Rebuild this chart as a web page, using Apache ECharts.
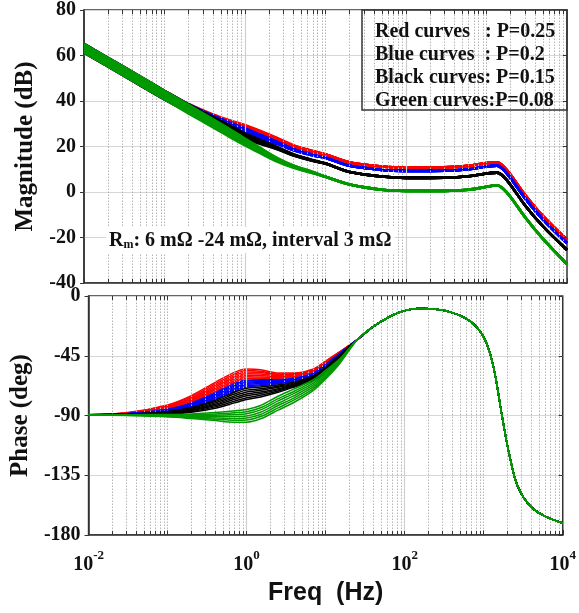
<!DOCTYPE html>
<html>
<head>
<meta charset="utf-8">
<script src="https://cdn.jsdelivr.net/npm/echarts@6/dist/echarts.min.js"></script>
<style>
html, body { margin: 0; padding: 0; background: #fff; }
#main { width: 579px; height: 613px; }
</style>
</head>
<body>
<div id="main"></div>
<script>
var myChart = echarts.init(document.getElementById('main'));

// frequencies (Hz)
var freqMagLow = [0.01, 0.03, 0.1, 0.2, 0.4, 0.7, 1, 1.5, 2.5, 4, 7];
var freqMagHigh = [10, 20, 50, 100, 300, 600, 1000, 1350, 1600, 2000, 3000, 5000, 10000];
var freqPhLow = [0.01, 0.03, 0.1, 0.2, 0.4, 0.7, 1, 1.5, 2.5, 4, 7, 10, 15];
var freqPhHigh = [25, 40, 70, 100, 150, 250, 400, 600, 800, 1000, 1200, 1400, 1700, 2000, 2500, 3000, 4000, 6000, 10000];

// magnitude (dB), one row per Rm = 6..24 mOhm
var magRedLow = [
    [65.1, 55.3, 44.5, 38.7, 34.1, 31.1, 29.5, 27.1, 23.8, 20.5, 18.0],
    [64.5, 54.7, 43.9, 38.1, 33.6, 30.7, 29.1, 26.8, 23.6, 20.4, 17.9],
    [63.8, 54.0, 43.2, 37.6, 33.1, 30.2, 28.7, 26.5, 23.5, 20.3, 17.9],
    [63.2, 53.4, 42.6, 37.0, 32.6, 29.8, 28.3, 26.2, 23.3, 20.2, 17.8],
    [62.6, 52.8, 42.0, 36.4, 32.1, 29.4, 27.9, 25.9, 23.1, 20.1, 17.7],
    [61.9, 52.1, 41.3, 35.9, 31.6, 28.9, 27.5, 25.6, 23.0, 20.0, 17.7],
    [61.3, 51.5, 40.7, 35.3, 31.1, 28.5, 27.1, 25.3, 22.8, 19.9, 17.6]
];
var magBlueLow = [
    [65.1, 55.3, 44.5, 38.6, 33.6, 30.1, 28.0, 25.4, 22.1, 18.9, 16.4],
    [64.5, 54.7, 43.9, 38.0, 33.1, 29.7, 27.6, 25.1, 21.9, 18.8, 16.3],
    [63.8, 54.0, 43.2, 37.5, 32.6, 29.2, 27.2, 24.8, 21.8, 18.7, 16.3],
    [63.2, 53.4, 42.6, 36.9, 32.1, 28.8, 26.8, 24.5, 21.6, 18.6, 16.2],
    [62.6, 52.8, 42.0, 36.3, 31.6, 28.4, 26.4, 24.2, 21.4, 18.5, 16.1],
    [61.9, 52.1, 41.3, 35.8, 31.1, 27.9, 26.0, 23.9, 21.3, 18.4, 16.1],
    [61.3, 51.5, 40.7, 35.2, 30.6, 27.5, 25.6, 23.6, 21.1, 18.3, 16.0]
];
var magBlackLow = [
    [65.1, 55.3, 44.5, 38.4, 33.0, 28.6, 25.8, 23.1, 19.8, 16.6, 14.0],
    [64.5, 54.7, 43.9, 37.8, 32.5, 28.2, 25.4, 22.8, 19.6, 16.5, 13.9],
    [63.8, 54.0, 43.2, 37.3, 32.0, 27.7, 25.0, 22.5, 19.5, 16.4, 13.9],
    [63.2, 53.4, 42.6, 36.7, 31.5, 27.3, 24.6, 22.2, 19.3, 16.3, 13.8],
    [62.6, 52.8, 42.0, 36.1, 31.0, 26.9, 24.2, 21.9, 19.1, 16.2, 13.7],
    [61.9, 52.1, 41.3, 35.6, 30.5, 26.4, 23.8, 21.6, 19.0, 16.1, 13.7],
    [61.3, 51.5, 40.7, 35.0, 30.0, 26.0, 23.4, 21.3, 18.8, 16.0, 13.6]
];
var magGreenLow = [
    [65.1, 55.3, 44.5, 38.3, 32.0, 26.9, 23.5, 19.7, 15.0, 11.7, 8.8],
    [64.5, 54.7, 43.9, 37.7, 31.4, 26.3, 23.0, 19.3, 14.7, 11.5, 8.7],
    [63.8, 54.0, 43.2, 37.0, 30.8, 25.8, 22.5, 18.9, 14.5, 11.4, 8.6],
    [63.2, 53.4, 42.6, 36.4, 30.2, 25.2, 22.0, 18.5, 14.2, 11.2, 8.5],
    [62.6, 52.8, 42.0, 35.8, 29.6, 24.6, 21.5, 18.1, 13.9, 11.0, 8.4],
    [61.9, 52.1, 41.3, 35.1, 29.0, 24.1, 21.0, 17.7, 13.7, 10.9, 8.3],
    [61.3, 51.5, 40.7, 34.5, 28.4, 23.5, 20.5, 17.3, 13.4, 10.7, 8.2]
];
var magRedHigh = [16.5, 13, 11.2, 10.8, 10.9, 11.5, 12.7, 13.1, 11.5, 7.5, -1.2, -10.5, -21];
var magBlueHigh = [15, 11.5, 9.7, 9.3, 9.4, 10, 11.2, 11.6, 10, 6, -2.7, -12, -22.5];
var magBlackHigh = [12.5, 8.8, 6.8, 6.2, 6.3, 6.9, 8.1, 8.5, 7, 3, -5.8, -15, -25.5];
var magGreenHigh = [6.7, 3.3, 1.0, 0.5, 0.5, 1.0, 2.3, 3.0, 1.5, -2.3, -11, -20.5, -31.7];

// phase (deg), one row per Rm
var phRedLow = [
    [-89.5, -88.0, -82.0, -75.0, -65.0, -57.5, -55.0, -55.5, -58.0, -58.0, -55.0, -49.0, -42.0],
    [-89.5, -88.1, -82.5, -75.8, -66.2, -58.8, -56.2, -56.6, -58.7, -58.5, -55.3, -49.3, -42.2],
    [-89.5, -88.2, -83.0, -76.7, -67.3, -60.0, -57.3, -57.7, -59.3, -59.0, -55.7, -49.7, -42.3],
    [-89.5, -88.3, -83.5, -77.5, -68.5, -61.2, -58.5, -58.8, -60.0, -59.5, -56.0, -50.0, -42.5],
    [-89.5, -88.4, -84.0, -78.3, -69.7, -62.5, -59.7, -59.9, -60.7, -60.0, -56.3, -50.3, -42.7],
    [-89.5, -88.5, -84.5, -79.2, -70.8, -63.8, -60.8, -61.0, -61.3, -60.5, -56.7, -50.7, -42.8],
    [-89.5, -88.6, -85.0, -80.0, -72.0, -65.0, -62.0, -62.0, -62.0, -61.0, -57.0, -51.0, -43.0]
];
var phBlueLow = [
    [-89.5, -88.6, -85.3, -80.5, -73.0, -66.0, -63.2, -63.0, -63.0, -62.0, -58.0, -51.5, -43.3],
    [-89.5, -88.7, -85.6, -81.0, -73.8, -66.9, -64.1, -63.8, -63.5, -62.3, -58.3, -51.7, -43.4],
    [-89.5, -88.7, -85.9, -81.5, -74.7, -67.8, -65.0, -64.5, -64.0, -62.7, -58.5, -51.9, -43.5],
    [-89.5, -88.8, -86.2, -82.0, -75.5, -68.8, -65.9, -65.3, -64.5, -63.0, -58.8, -52.2, -43.7],
    [-89.5, -88.9, -86.4, -82.5, -76.3, -69.7, -66.7, -66.0, -65.0, -63.3, -59.0, -52.4, -43.8],
    [-89.5, -88.9, -86.7, -83.0, -77.2, -70.6, -67.6, -66.8, -65.5, -63.7, -59.3, -52.6, -43.9],
    [-89.5, -89.0, -87.0, -83.5, -78.0, -71.5, -68.5, -67.5, -66.0, -64.0, -59.5, -52.8, -44.0]
];
var phBlackLow = [
    [-89.5, -89.0, -87.0, -84.0, -78.5, -72.5, -69.5, -68.5, -67.0, -65.0, -60.0, -53.5, -44.5],
    [-89.5, -89.1, -87.3, -84.6, -79.5, -73.8, -70.9, -69.8, -67.9, -65.6, -60.6, -54.2, -44.8],
    [-89.5, -89.2, -87.7, -85.2, -80.5, -75.2, -72.3, -71.0, -68.8, -66.2, -61.2, -54.9, -45.2],
    [-89.5, -89.3, -88.0, -85.8, -81.5, -76.5, -73.8, -72.3, -69.8, -66.8, -61.8, -55.6, -45.6],
    [-89.5, -89.3, -88.3, -86.3, -82.5, -77.8, -75.2, -73.5, -70.7, -67.3, -62.4, -56.3, -46.0],
    [-89.5, -89.4, -88.7, -86.9, -83.5, -79.2, -76.6, -74.8, -71.6, -67.9, -62.9, -57.0, -46.5],
    [-89.5, -89.5, -89.0, -87.5, -84.5, -80.5, -78.0, -76.0, -72.5, -68.5, -63.5, -57.7, -47.0]
];
var phGreenLow = [
    [-89.5, -89.4, -89.2, -88.8, -87.8, -86.5, -85.5, -82.5, -75.5, -70.0, -63.0, -56.0, -47.5],
    [-89.5, -89.5, -89.5, -89.4, -88.8, -87.9, -87.1, -84.2, -77.3, -71.7, -64.3, -57.1, -48.1],
    [-89.5, -89.6, -89.8, -90.0, -89.8, -89.3, -88.7, -85.8, -79.0, -73.3, -65.7, -58.2, -48.7],
    [-89.5, -89.7, -90.1, -90.5, -90.8, -90.8, -90.3, -87.5, -80.8, -75.0, -67.0, -59.3, -49.3],
    [-89.5, -89.8, -90.4, -91.1, -91.8, -92.2, -91.8, -89.2, -82.5, -76.7, -68.3, -60.4, -49.8],
    [-89.5, -89.9, -90.7, -91.7, -92.8, -93.6, -93.4, -90.8, -84.3, -78.3, -69.7, -61.5, -50.4],
    [-89.5, -90.0, -91.0, -92.3, -93.8, -95.0, -95.0, -92.5, -86.0, -80.0, -71.0, -62.5, -51.0]
];
// all curves share this above ~20 Hz
var phHigh = [-33, -23, -14.5, -11, -9.5, -10, -12.5, -17, -23, -31, -43, -60, -90, -113, -138, -149, -159, -166, -171];

var groups = [
    { color: '#ff0000', magLow: magRedLow, magHigh: magRedHigh, phLow: phRedLow },
    { color: '#0000ff', magLow: magBlueLow, magHigh: magBlueHigh, phLow: phBlueLow },
    { color: '#000000', magLow: magBlackLow, magHigh: magBlackHigh, phLow: phBlackLow },
    { color: '#009a00', magLow: magGreenLow, magHigh: magGreenHigh, phLow: phGreenLow }
];

var magTicks = [-40, -20, 0, 20, 40, 60, 80];
var phTicks = [-180, -135, -90, -45, 0];

var legendLines = [
    'Red curves   : P=0.25',
    'Blue curves  : P=0.2',
    'Black curves: P=0.15',
    'Green curves:P=0.08'
];

function pairs(fs, vs) {
    return fs.map(function (f, i) { return [f, vs[i]]; });
}

// log grid positions: 2..9 x each decade, odd decades dotted; 10^0 and 10^2 solid
var dotted = [], solid = [1, 100];
for (var d = -2; d < 4; d++) {
    for (var k = 1; k <= 9; k++) {
        if (k === 1 && d % 2 === 0) continue;
        dotted.push(+(k * Math.pow(10, d)).toPrecision(3));
    }
}
var yRange = [[-40, 80], [-180, 0]];
var yTicks = [magTicks, phTicks];
var tickLen = [1.8, 3.0]; // about 4 px in each panel

var serif = '"Liberation Serif", "Times New Roman", serif';

var series = [];
[0, 1].forEach(function (g) {
    var lo = yRange[g][0], hi = yRange[g][1], t = tickLen[g];
    var ticks = [];
    dotted.concat(solid).forEach(function (v) {
        ticks.push([{ coord: [v, lo] }, { coord: [v, lo + t] }]);
        ticks.push([{ coord: [v, hi] }, { coord: [v, hi - t] }]);
    });
    yTicks[g].forEach(function (y) {
        ticks.push([{ coord: [8900, y] }, { coord: [10000, y] }]);
    });
    series.push({
        type: 'line', xAxisIndex: g, yAxisIndex: g, data: [], silent: true, z: 1,
        markLine: {
            silent: true, symbol: 'none', animation: false, label: { show: false },
            data: dotted.map(function (v) {
                return { xAxis: v, lineStyle: { color: '#b5b5b5', type: [1.5, 1.5], width: 1 } };
            }).concat(solid.map(function (v) {
                return { xAxis: v, lineStyle: { color: '#cfcfcf', type: 'solid', width: 1.2 } };
            }))
        }
    });
    series.push({
        type: 'line', xAxisIndex: g, yAxisIndex: g, data: [], silent: true, z: 20,
        markLine: {
            silent: true, symbol: 'none', animation: false, label: { show: false },
            lineStyle: { color: '#333', type: 'solid', width: 1 },
            data: ticks
        }
    });
});

groups.forEach(function (gr, gi) {
    gr.magLow.forEach(function (row) {
        series.push({
            type: 'line', xAxisIndex: 0, yAxisIndex: 0, z: 3 + gi,
            showSymbol: false, smooth: 0.3,
            lineStyle: { color: gr.color, width: 2.6 },
            data: pairs(freqMagLow, row).concat(pairs(freqMagHigh, gr.magHigh))
        });
    });
});
groups.forEach(function (gr, gi) {
    gr.phLow.forEach(function (row) {
        series.push({
            type: 'line', xAxisIndex: 1, yAxisIndex: 1, z: 3 + gi,
            showSymbol: false, smooth: 0.3,
            lineStyle: { color: gr.color, width: 1.5 },
            data: pairs(freqPhLow, row).concat(pairs(freqPhHigh, phHigh))
        });
    });
});

function xAxisCfg(idx, showLabel) {
    return {
        type: 'log', logBase: 10, gridIndex: idx, min: 0.01, max: 10000,
        axisLine: { show: true, onZero: false, lineStyle: { color: '#333', width: 1.5 } },
        axisTick: { show: true, inside: true, length: 5, lineStyle: { color: '#333' } },
        splitLine: { show: false },
        axisLabel: {
            show: showLabel, margin: 14,
            formatter: function (v) {
                var e = Math.round(Math.log10(v));
                return e % 2 === 0 ? '{b|10}{s|' + e + '}' : '';
            },
            rich: {
                b: { fontFamily: serif, fontWeight: 'bold', fontSize: 20, color: '#111', lineHeight: 26, verticalAlign: 'bottom' },
                s: { fontFamily: serif, fontWeight: 'bold', fontSize: 13, color: '#111', lineHeight: 13, verticalAlign: 'top' }
            }
        }
    };
}

option = {
    animation: false,
    backgroundColor: '#fff',
    grid: [
        { left: 84, right: 12, top: 10, height: 273, show: true, borderColor: '#333', borderWidth: 1.5 },
        { left: 84, right: 12, top: 296, height: 239, show: true, borderColor: '#333', borderWidth: 1.5 }
    ],
    xAxis: [
        xAxisCfg(0, false),
        Object.assign(xAxisCfg(1, true), {
            name: 'Freq  (Hz)', nameLocation: 'middle', nameGap: 46,
            nameTextStyle: { fontFamily: '"Liberation Sans", Arial, sans-serif', fontWeight: 'bold', fontSize: 25, color: '#111' }
        })
    ],
    yAxis: [
        {
            type: 'value', gridIndex: 0, min: -40, max: 80, interval: 20,
            name: 'Magnitude (dB)', nameLocation: 'middle', nameGap: 40,
            nameTextStyle: { fontFamily: serif, fontWeight: 'bold', fontSize: 25, color: '#111' },
            axisLine: { show: true, lineStyle: { color: '#333', width: 1.5 } },
            axisTick: { show: true, length: 4, lineStyle: { color: '#333' } },
            axisLabel: { fontFamily: serif, fontWeight: 'bold', fontSize: 20, color: '#111', margin: 8 },
            splitLine: { show: true, lineStyle: { color: '#d6d6d6', width: 1.2 } }
        },
        {
            type: 'value', gridIndex: 1, min: -180, max: 0, interval: 45,
            name: 'Phase (deg)', nameLocation: 'middle', nameGap: 50,
            nameTextStyle: { fontFamily: serif, fontWeight: 'bold', fontSize: 25, color: '#111' },
            axisLine: { show: true, lineStyle: { color: '#333', width: 1.5 } },
            axisTick: { show: true, length: 4, lineStyle: { color: '#333' } },
            axisLabel: { fontFamily: serif, fontWeight: 'bold', fontSize: 20, color: '#111', margin: 8 },
            splitLine: { show: true, lineStyle: { color: '#d6d6d6', width: 1.2 } }
        }
    ],
    graphic: [
        {
            type: 'rect', z: 50,
            shape: { x: 362, y: 10, width: 205, height: 100 },
            style: { fill: 'rgba(0,0,0,0)', stroke: '#333', lineWidth: 1.5 }
        },
        {
            type: 'text', z: 51, x: 375, y: 20,
            style: {
                text: legendLines.join('\n'),
                fontFamily: serif, fontWeight: 'bold', fontSize: 20, lineHeight: 23,
                fill: '#111', verticalAlign: 'top'
            }
        },
        {
            type: 'text', z: 51, x: 106, y: 240,
            style: {
                text: '{a|R}{s|m}{a|: 6 mΩ -24 mΩ, interval 3 mΩ}',
                verticalAlign: 'middle',
                backgroundColor: '#fff', padding: [2, 3],
                rich: {
                    a: { fontFamily: serif, fontWeight: 'bold', fontSize: 20, lineHeight: 22, fill: '#111', verticalAlign: 'bottom' },
                    s: { fontFamily: serif, fontWeight: 'bold', fontSize: 12, lineHeight: 13, fill: '#111', verticalAlign: 'bottom' }
                }
            }
        }
    ],
    series: series
};
myChart.setOption(option);
</script>
</body>
</html>
